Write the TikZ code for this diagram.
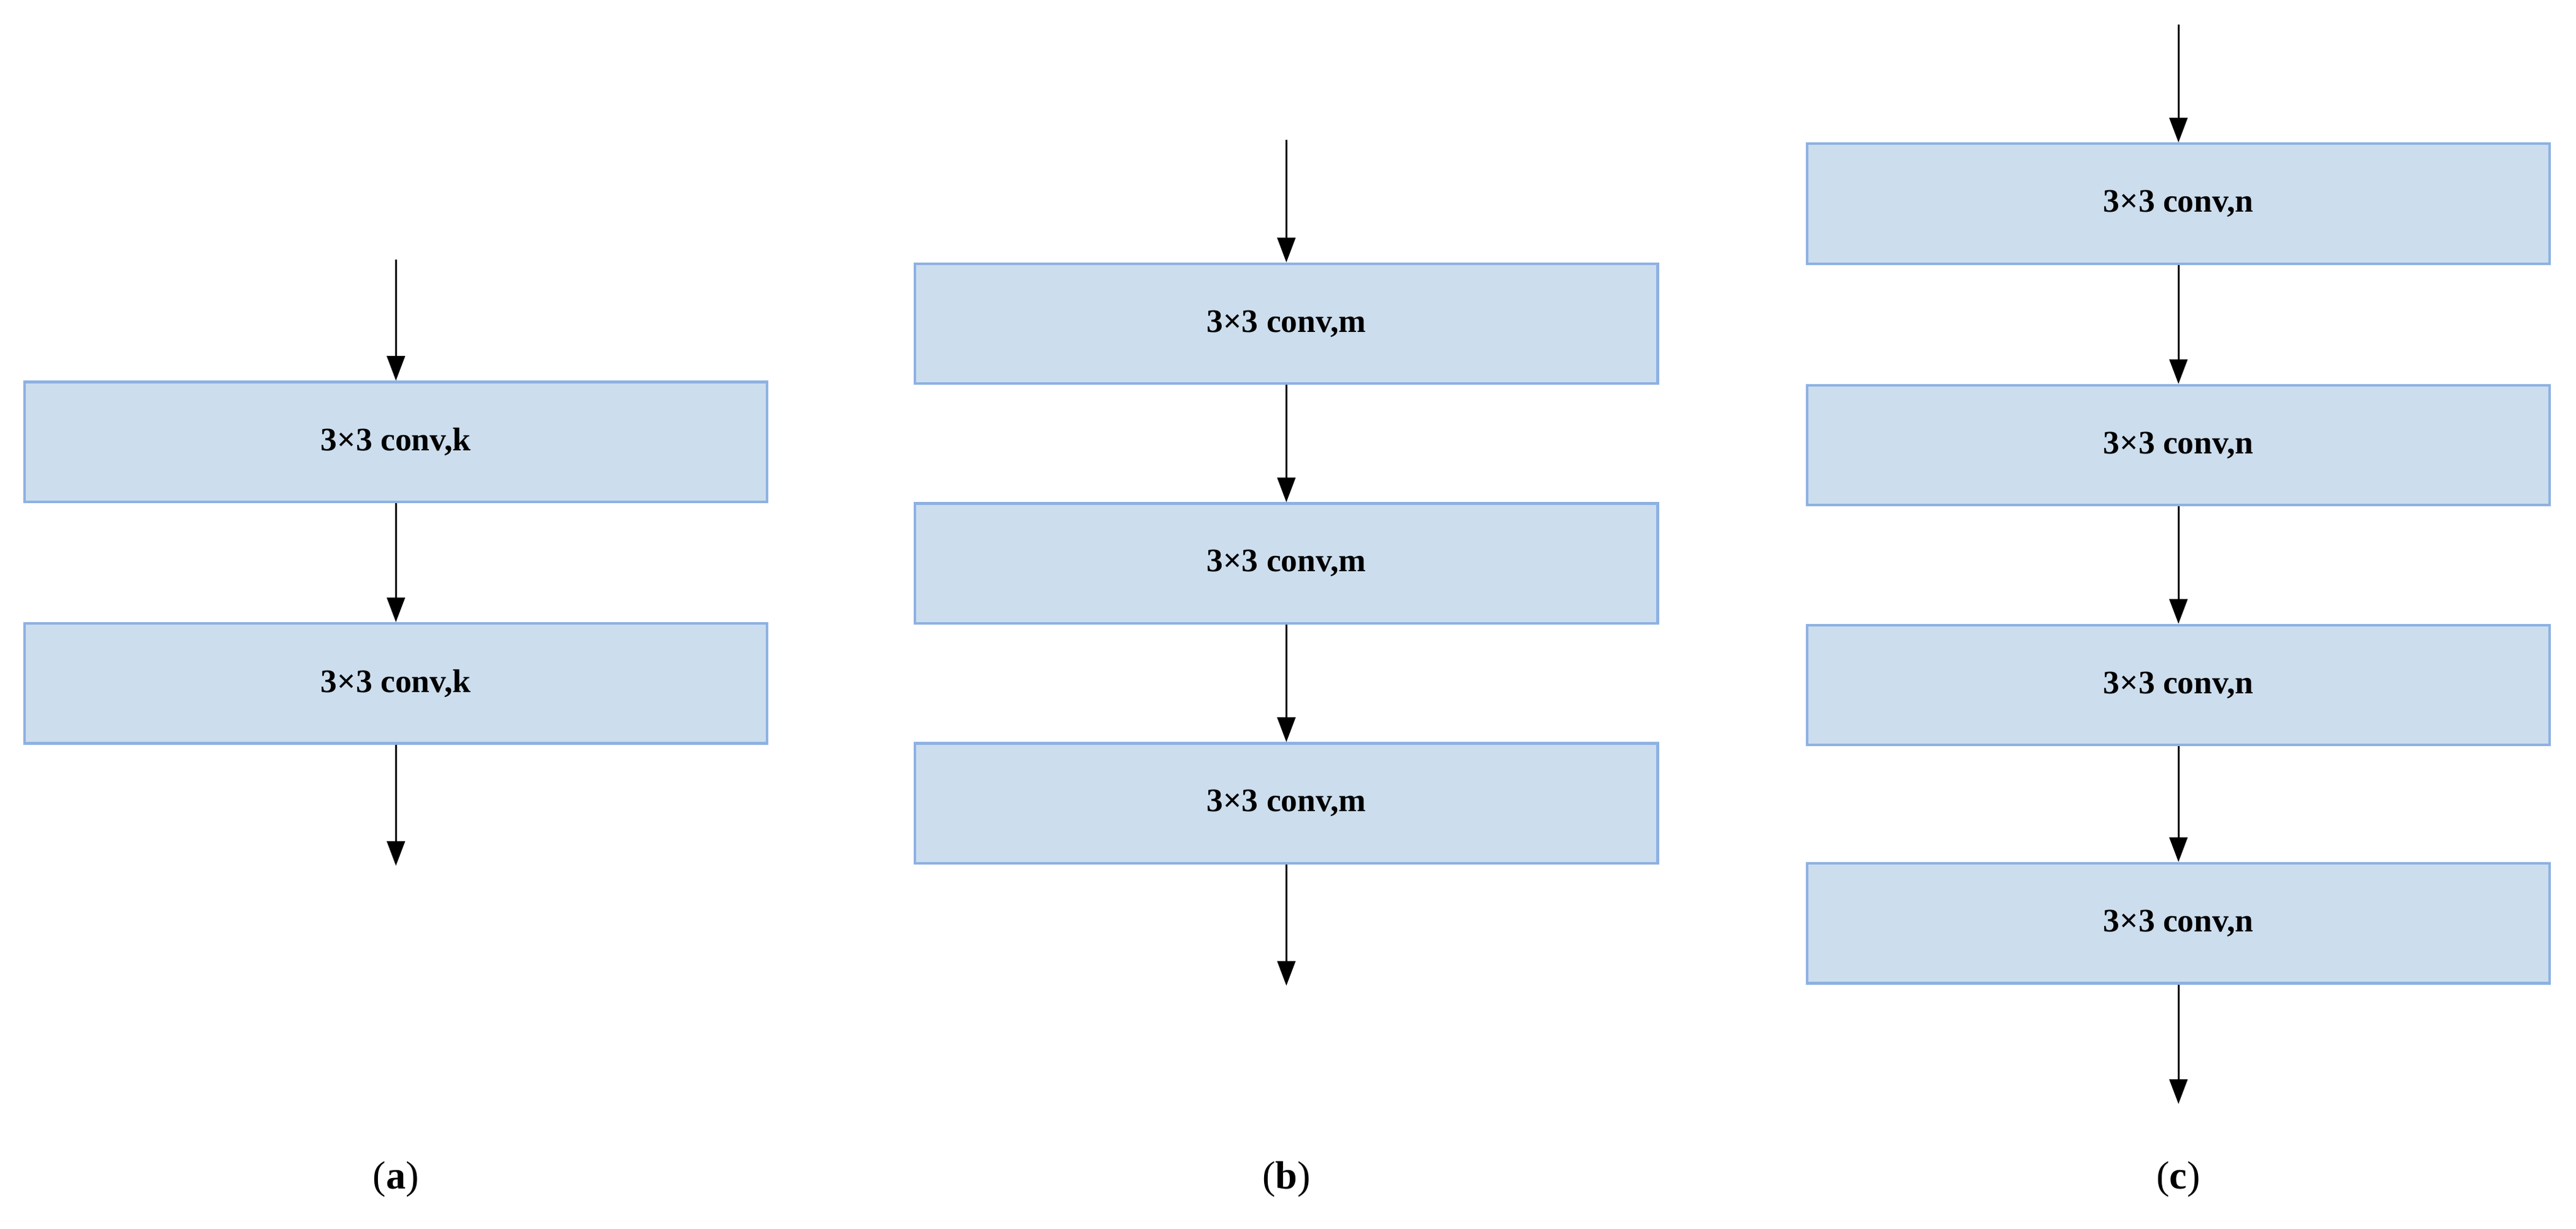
\documentclass[tikz,border=0pt]{standalone}
\usepackage{fontspec}
\setmainfont{Liberation Serif}
\usetikzlibrary{arrows.meta}
\definecolor{boxfill}{HTML}{CCDDED}
\definecolor{boxline}{HTML}{8DB1E2}
\tikzset{
  convbox/.style={draw=boxline, line width=1.6pt, fill=boxfill, minimum width=452pt, minimum height=73pt, inner sep=0pt, font=\fontsize{20}{24}\selectfont\bfseries},
  flow/.style={line width=1.2pt, -{Triangle[length=15pt,width=11pt]}},
  captext/.style={font=\fontsize{24}{28}\selectfont}
}
\begin{document}
\begin{tikzpicture}[x=1pt,y=-1pt]
\useasboundingbox (0,0) rectangle (1568,748);
% (a)
\coordinate (a0) at (241,158);
\node[convbox] (a1) at (241,269) {3×3 conv,k};
\node[convbox] (a2) at (241,416) {3×3 conv,k};
\coordinate (a3) at (241,527);
\draw[flow] (a0) -- (a1.north);
\draw[flow] (a1.south) -- (a2.north);
\draw[flow] (a2.south) -- (a3);
% (b)
\coordinate (b0) at (783,85);
\node[convbox] (b1) at (783,197) {3×3 conv,m};
\node[convbox] (b2) at (783,343) {3×3 conv,m};
\node[convbox] (b3) at (783,489) {3×3 conv,m};
\coordinate (b4) at (783,600);
\draw[flow] (b0) -- (b1.north);
\draw[flow] (b1.south) -- (b2.north);
\draw[flow] (b2.south) -- (b3.north);
\draw[flow] (b3.south) -- (b4);
% (c)
\coordinate (c0) at (1326,15);
\node[convbox] (c1) at (1326,124) {3×3 conv,n};
\node[convbox] (c2) at (1326,271) {3×3 conv,n};
\node[convbox] (c3) at (1326,417) {3×3 conv,n};
\node[convbox] (c4) at (1326,562) {3×3 conv,n};
\coordinate (c5) at (1326,672);
\draw[flow] (c0) -- (c1.north);
\draw[flow] (c1.south) -- (c2.north);
\draw[flow] (c2.south) -- (c3.north);
\draw[flow] (c3.south) -- (c4.north);
\draw[flow] (c4.south) -- (c5);
% captions
\node[captext] (la) at (241,718) {(\textbf{a})};
\node[captext] (lb) at (783,718) {(\textbf{b})};
\node[captext] (lc) at (1326,718) {(\textbf{c})};
\end{tikzpicture}
\end{document}
